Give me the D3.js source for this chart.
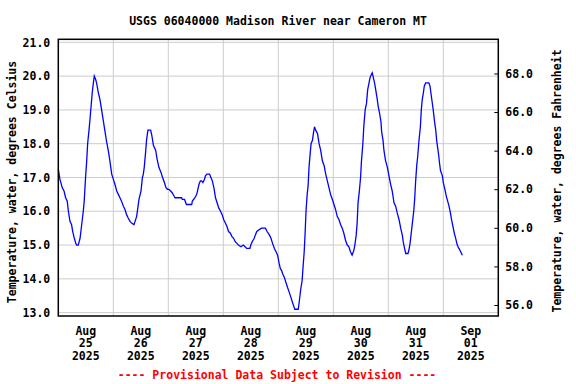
<!DOCTYPE html>
<html>
<head>
<meta charset="utf-8">
<script src="https://cdn.jsdelivr.net/npm/d3@7"></script>
<style>
  body { margin: 0; background: #fff; }
  svg text { font-family: "DejaVu Sans Mono", "Liberation Mono", monospace; font-weight: bold; }
</style>
</head>
<body>
<svg id="chart" width="576" height="384"></svg>
<script>
// series: hours since 2025-08-25 00:00, water temperature in deg C
var startDate = new Date(2025, 7, 25, 0, 0);
var endDate = new Date(2025, 8, 2, 0, 0);
var hours = [0, 0.7, 1.7, 2.5, 3.2, 3.9, 4.4, 5.1, 5.8, 6.3, 7.0, 7.6, 8.0, 8.7, 9.5, 10.2, 10.9, 11.3, 11.9, 12.4, 12.8, 13.4, 13.8, 14.3, 14.8, 15.3, 15.7, 16.3, 16.7, 17.5, 18.2, 18.9, 19.6, 20.4, 21.1, 21.8, 22.5, 23.3,
	24.0, 24.7, 25.5, 26.2, 26.9, 27.6, 28.4, 29.1, 29.8, 30.5, 31.3, 32.0, 33.0, 33.5, 34.2, 34.6, 35.2, 36.1, 36.7, 37.1, 37.5, 38.1, 38.5, 39.1, 40.3, 40.8, 41.5, 42.5, 43.1, 43.9, 44.8, 45.5, 46.3, 47.0, 47.7,
	48.3, 49.0, 49.7, 50.5, 50.9, 53.8, 54.1, 55.1, 55.9, 58.2, 58.5, 59.6, 60.4, 60.9, 61.4, 62.0, 62.5, 63.1, 63.8, 64.2, 64.9, 66.0, 66.6, 67.2, 67.9, 68.6, 69.3, 70.0, 70.8, 71.5,
	72.2, 72.9, 73.6, 74.3, 75.1, 75.8, 76.5, 77.2, 77.9, 78.6, 79.7, 80.7, 81.5, 82.2, 83.6, 84.0, 84.6, 85.5, 86.0, 86.6, 88.6, 90.4, 91.1, 92.1, 92.8, 93.5, 94.3, 95.0, 95.7,
	96.4, 96.9, 97.4, 97.9, 98.6, 99.3, 100.0, 100.8, 101.5, 102.2, 102.7, 103.2, 104.7, 105.1, 105.8, 106.4, 106.8, 107.3, 107.7, 108.1, 108.6, 109.0, 109.4, 109.9, 110.3, 110.9, 111.3, 111.8, 112.3, 113.1, 113.8, 114.5, 115.2, 116.0, 116.7, 117.4, 118.1, 118.8, 119.6,
	120.3, 121.0, 121.7, 122.5, 123.2, 123.9, 124.6, 125.3, 126.1, 126.8, 127.5, 128.2, 129.0, 129.4, 130.0, 130.4, 130.8, 131.3, 131.9, 132.3, 132.9, 133.3, 133.9, 134.5, 135.0, 135.6, 136.0, 136.6, 137.0, 137.5, 138.0, 138.5, 139.1, 139.6, 140.2, 140.8, 141.1, 141.7, 142.1, 142.8, 143.6,
	144.3, 145.0, 145.7, 146.5, 147.2, 147.9, 148.7, 149.4, 150.1, 150.5, 151.1, 151.6, 152.6, 153.0, 153.5, 154.0, 154.5, 155.1, 155.5, 155.9, 156.4, 156.8, 157.4, 158.0, 158.4, 158.8, 159.3, 159.7, 160.3, 161.7, 162.2, 162.6, 163.1, 163.6, 164.1, 164.7, 165.1, 165.5, 166.0, 166.4, 166.8, 167.6,
	168.0, 168.7, 169.3, 169.9, 170.5, 171.1, 171.6, 172.2, 172.8, 173.4, 174.1, 174.8, 175.6, 176.3];
var tempC = [17.25, 16.95, 16.7, 16.6, 16.4, 16.3, 16.0, 15.7, 15.6, 15.4, 15.2, 15.05, 15.0, 15.0, 15.2, 15.6, 16.0, 16.3, 17.0, 17.5, 18.0, 18.4, 18.7, 19.1, 19.5, 19.8, 20.0, 19.9, 19.8, 19.5, 19.3, 19.0, 18.7, 18.35, 18.05, 17.8, 17.5, 17.1,
	16.95, 16.8, 16.6, 16.5, 16.4, 16.3, 16.15, 16.05, 15.9, 15.8, 15.7, 15.65, 15.6, 15.7, 15.85, 16.05, 16.35, 16.6, 17.0, 17.1, 17.3, 17.75, 18.1, 18.4, 18.4, 18.25, 17.95, 17.8, 17.55, 17.3, 17.15, 17.0, 16.85, 16.7, 16.65,
	16.65, 16.6, 16.55, 16.45, 16.4, 16.4, 16.35, 16.35, 16.2, 16.2, 16.3, 16.4, 16.5, 16.65, 16.8, 16.9, 16.9, 16.85, 16.95, 17.05, 17.1, 17.1, 17.0, 16.9, 16.7, 16.4, 16.25, 16.1, 16.0, 15.9,
	15.75, 15.65, 15.55, 15.4, 15.35, 15.25, 15.2, 15.1, 15.05, 15.0, 14.95, 15.0, 14.95, 14.9, 14.9, 15.0, 15.1, 15.2, 15.3, 15.4, 15.5, 15.5, 15.4, 15.3, 15.2, 15.05, 14.9, 14.8, 14.7,
	14.45, 14.3, 14.25, 14.15, 14.05, 13.9, 13.75, 13.6, 13.45, 13.3, 13.2, 13.1, 13.1, 13.3, 13.7, 13.95, 14.35, 14.8, 15.35, 16.0, 16.5, 16.75, 17.3, 17.7, 18.0, 18.1, 18.3, 18.5, 18.4, 18.3, 18.0, 17.8, 17.5, 17.35, 17.1, 16.9, 16.7, 16.5, 16.35,
	16.2, 16.05, 15.85, 15.75, 15.6, 15.5, 15.35, 15.15, 15.0, 14.95, 14.8, 14.7, 14.85, 15.0, 15.3, 15.65, 16.25, 16.55, 17.0, 17.5, 18.0, 18.5, 19.0, 19.2, 19.6, 19.8, 19.95, 20.05, 20.1, 19.95, 19.8, 19.6, 19.35, 19.1, 18.9, 18.65, 18.35, 18.1, 17.8, 17.5, 17.3,
	17.05, 16.8, 16.6, 16.25, 16.15, 15.95, 15.75, 15.5, 15.3, 15.1, 14.9, 14.75, 14.75, 14.85, 15.05, 15.35, 15.65, 16.0, 16.35, 16.85, 17.35, 17.6, 18.1, 18.5, 19.0, 19.3, 19.5, 19.7, 19.8, 19.8, 19.7, 19.5, 19.25, 19.0, 18.7, 18.4, 18.1, 17.9, 17.65, 17.4, 17.2, 17.05,
	16.85, 16.65, 16.45, 16.3, 16.15, 15.95, 15.75, 15.55, 15.35, 15.2, 15.0, 14.9, 14.8, 14.7];

var celsiusTicks = [13, 14, 15, 16, 17, 18, 19, 20, 21];
var fahrenheitTicks = [56, 58, 60, 62, 64, 66, 68];
var dayMonths = ["Aug", "Aug", "Aug", "Aug", "Aug", "Aug", "Aug", "Sep"];
var dayNums = ["25", "26", "27", "28", "29", "30", "31", "01"];
var dayYears = ["2025", "2025", "2025", "2025", "2025", "2025", "2025", "2025"];

var titleText = "USGS 06040000 Madison River near Cameron MT";
var leftTitle = "Temperature, water, degrees Celsius";
var rightTitle = "Temperature, water, degrees Fahrenheit";
var noteText = "---- Provisional Data Subject to Revision ----";

var plotLeft = 58.3, plotRight = 498.3, plotTop = 39.3, plotBottom = 316;

var svg = d3.select("#chart");

var x = d3.scaleTime().domain([startDate, endDate]).range([plotLeft, plotRight]);
var y = d3.scaleLinear().domain([12.9, 21.09]).range([plotBottom, plotTop]);
var yF = d3.scaleLinear().domain([55.43, 69.77]).range([plotBottom, plotTop]);

var data = hours.map(function(h, i) {
	return { t: new Date(startDate.getTime() + h * 3600e3), c: tempC[i] };
});

// grid
var grid = svg.append("g").attr("stroke", "#cccccc").attr("stroke-width", 1);
celsiusTicks.forEach(function(v) {
	grid.append("line").attr("x1", plotLeft).attr("x2", plotRight).attr("y1", y(v)).attr("y2", y(v));
});
var midnights = d3.timeDay.range(d3.timeDay.offset(startDate, 1), endDate);
midnights.forEach(function(d) {
	grid.append("line").attr("x1", x(d)).attr("x2", x(d)).attr("y1", plotTop).attr("y2", plotBottom);
});

// series
var line = d3.line().x(function(d) { return x(d.t); }).y(function(d) { return y(d.c); });
svg.append("path").datum(data)
	.attr("fill", "none").attr("stroke", "#0000ff").attr("stroke-width", 1.3)
	.attr("d", line);

// frame
svg.append("rect").attr("x", plotLeft).attr("y", plotTop).attr("width", plotRight - plotLeft).attr("height", plotBottom - plotTop)
	.attr("fill", "none").attr("stroke", "#000").attr("stroke-width", 1.5);

// left axis
var axL = svg.append("g").attr("transform", "translate(" + plotLeft + ",0)")
	.call(d3.axisLeft(y).tickValues(celsiusTicks).tickSize(0).tickPadding(8).tickFormat(d3.format(".1f")));
axL.select(".domain").remove();
axL.selectAll("text").attr("font-size", 11.5).attr("fill", "#000")
	.style("font-family", "DejaVu Sans Mono").style("font-weight", "bold");

// right axis
var axR = svg.append("g").attr("transform", "translate(" + plotRight + ",0)")
	.call(d3.axisRight(yF).tickValues(fahrenheitTicks).tickSizeInner(-4).tickSizeOuter(0).tickPadding(7).tickFormat(d3.format(".1f")));
axR.select(".domain").remove();
axR.selectAll("line").attr("stroke", "#000");
axR.selectAll("text").attr("font-size", 11.5).attr("fill", "#000")
	.style("font-family", "DejaVu Sans Mono").style("font-weight", "bold");

// x labels at noon of each day
var xl = svg.append("g").attr("font-size", 11.5).attr("text-anchor", "middle");
dayNums.forEach(function(dn, i) {
	var cx = x(d3.timeHour.offset(d3.timeDay.offset(startDate, i), 12));
	var t = xl.append("text").attr("x", cx);
	t.append("tspan").attr("x", cx).attr("y", 334.5).text(dayMonths[i]);
	t.append("tspan").attr("x", cx).attr("y", 347.2).text(dn);
	t.append("tspan").attr("x", cx).attr("y", 359.9).text(dayYears[i]);
});

svg.append("text").attr("x", 278).attr("y", 24.5).attr("text-anchor", "middle")
	.attr("font-size", 11.5).text(titleText);

svg.append("text").attr("transform", "translate(16,182) rotate(-90)").attr("text-anchor", "middle")
	.attr("font-size", 11.5).text(leftTitle);

svg.append("text").attr("transform", "translate(561,181) rotate(-90)").attr("text-anchor", "middle")
	.attr("font-size", 11.5).text(rightTitle);

svg.append("text").attr("x", 277).attr("y", 379).attr("text-anchor", "middle")
	.attr("font-size", 11.5).attr("fill", "#ff0000").text(noteText);
</script>
</body>
</html>
